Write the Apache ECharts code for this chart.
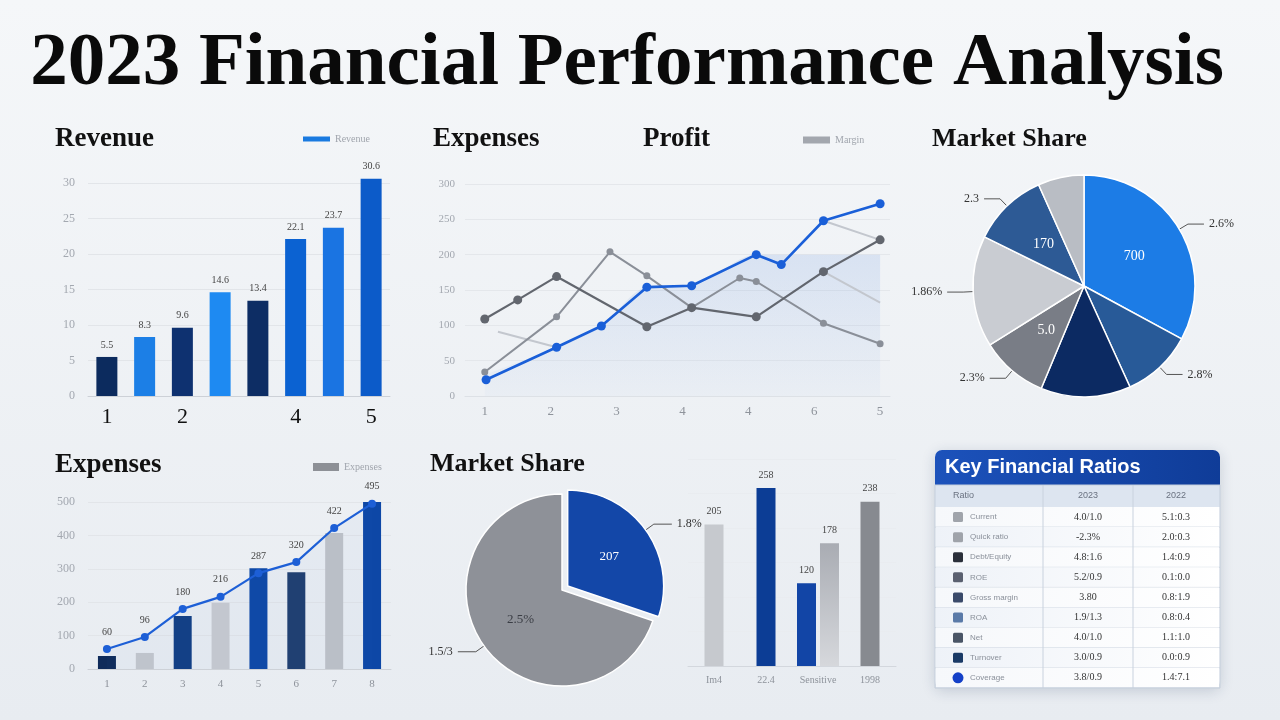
<!DOCTYPE html>
<html>
<head>
<meta charset="utf-8">
<script src="https://cdn.jsdelivr.net/npm/echarts@6/dist/echarts.min.js"></script>
<style>
html, body { margin: 0; padding: 0; background: #eef1f5; }
#main { width: 1280px; height: 720px; }
</style>
</head>
<body>
<div id="main"></div>
<script>
// ---- data ----
var revenueCats = ['1', '2', '3', '4', '5', '6', '7', '8'];
var revenueTicks = ['1', '', '2', '', '', '4', '', '5'];
var revenueValues = [5.5, 8.3, 9.6, 14.6, 13.4, 22.1, 23.7, 30.6];

var profitTicks = ['1', '2', '3', '4', '4', '6', '5'];
var profitBlue = [[1.02, 23], [2.09, 69], [2.77, 99], [3.46, 154], [4.14, 156], [5.12, 200], [5.5, 186], [6.14, 248], [7, 272]];
var profitDark = [[1, 109], [1.5, 136], [2.09, 169], [3.46, 98], [4.14, 125], [5.12, 112], [6.14, 176], [7, 221]];
var profitGray = [[1, 34], [2.09, 112], [2.9, 204], [3.46, 170], [4.14, 125], [4.87, 167], [5.12, 162], [6.14, 103], [7, 74]];
var profitLight = [[1.2, 91], [2.09, 69], '-', [6.14, 248], [7, 221], '-', [6.14, 176], [7, 132]];
var profitArea = [[1, 30], [2.09, 69], [2.77, 99], [3.46, 154], [4.14, 156], [5.12, 200], [7, 200]];

var shareNames = ['Product A', 'Product B', 'Product C', 'Product D', 'Product E', 'Product F', 'Product G'];
var shareValues = [32.9, 10.3, 13.1, 9.8, 16.2, 11.0, 6.7];
var shareOuter = ['2.6%', '2.8%', '', '2.3%', '1.86%', '2.3', ''];
var shareInner = ['700', '', '', '5.0', '', '170', ''];

var expenseCats = ['1', '2', '3', '4', '5', '6', '7', '8'];
var expenseBars = [39, 48, 159, 198, 302, 290, 407, 500];
var expenseLine = [60, 96, 180, 216, 287, 320, 422, 495];

var splitNames = ['Online', 'Retail'];
var splitValues = [30.2, 69.8];
var splitOuter = ['1.8%', '1.5/3'];
var splitInner = ['207', '2.5%'];

var segmentCats = ['Im4', '22.4', 'Sensitive', '1998'];
var segmentSingle = [205, 258, '-', 238];
var segmentPairA = ['-', '-', 120, '-'];
var segmentPairB = ['-', '-', 178, '-'];

var ratioCols = ['Ratio', '2023', '2022'];
var ratioNames = ['Current', 'Quick ratio', 'Debt/Equity', 'ROE', 'Gross margin', 'ROA', 'Net', 'Turnover', 'Coverage'];
var ratio2023 = ['4.0/1.0', '-2.3%', '4.8:1.6', '5.2/0.9', '3.80', '1.9/1.3', '4.0/1.0', '3.0/0.9', '3.8/0.9'];
var ratio2022 = ['5.1:0.3', '2.0:0.3', '1.4:0.9', '0.1:0.0', '0.8:1.9', '0.8:0.4', '1.1:1.0', '0.0:0.9', '1.4:7.1'];

// ---- styles ----
var serif = '"Liberation Serif", "DejaVu Serif", serif';
var sans = '"Liberation Sans", "DejaVu Sans", sans-serif';
var revenueColors = ['#0c2b5e', '#1c7fe6', '#0e3170', '#1e8af2', '#0d2d64', '#0b62d2', '#1a74e2', '#0c5bc9'];
var expenseColors = ['#0f2b5a', '#c4c7cd', '#123f84', '#c9cbd0', '#0e48a6', '#203f6f', '#bfc2c8', '#0d47a6'];
var shareColors = ['#1c7ce6', '#285a98', '#0c2a62', '#797d86', '#c9ccd2', '#2d5a95', '#b9bdc4'];
var splitColors = ['#1347a8', '#8e9198'];
var segmentColors = ['#c6c9ce', '#0c3d95', '#000', '#878a90'];
var ratioIconColors = ['#a0a4ab', '#9fa3aa', '#2a2f3a', '#5a6070', '#3a4a6a', '#5a7aa8', '#4a5566', '#1a3a66', '#1440c8'];

var chart = echarts.init(document.getElementById('main'), null, {renderer: 'canvas'});

function axisGray(size) {
    return {fontSize: size, color: '#a3a8b0', fontFamily: serif};
}

// ---- graphic: titles + table ----
var graphics = [];
function addText(x, y, text, font, fill, align) {
    graphics.push({
        type: 'text', x: x, y: y, silent: true,
        style: {text: text, font: font, fill: fill, align: align || 'left', textAlign: align || 'left',
                verticalAlign: 'middle', textVerticalAlign: 'middle'}
    });
}
addText(627, 65, '2023 Financial Performance Analysis', 'bold 75px ' + serif, '#0a0a0a', 'center');
addText(55, 139, 'Revenue', 'bold 27px ' + serif, '#111');
addText(433, 139, 'Expenses', 'bold 27px ' + serif, '#111');
addText(643, 139, 'Profit', 'bold 27px ' + serif, '#111');
addText(932, 139, 'Market Share', 'bold 26px ' + serif, '#111');
addText(55, 465, 'Expenses', 'bold 27px ' + serif, '#111');
addText(430, 464, 'Market Share', 'bold 26px ' + serif, '#111');

var tx = 935, ty = 450, tw = 285, th = 238, rowH = 20.1, bodyTop = 507;
graphics.push({type: 'rect', silent: true, shape: {x: tx, y: ty, width: tw, height: th, r: 7},
    style: {fill: '#fbfcfe', shadowBlur: 14, shadowColor: 'rgba(30,50,90,0.18)', shadowOffsetY: 3}});
graphics.push({type: 'rect', silent: true, shape: {x: tx, y: ty, width: tw, height: 35, r: [7, 7, 0, 0]},
    style: {fill: new echarts.graphic.LinearGradient(0, 0, 1, 0, [{offset: 0, color: '#1c52bb'}, {offset: 1, color: '#0f3c98'}])}});
addText(945, 467, 'Key Financial Ratios', 'bold 20px ' + sans, '#ffffff');
graphics.push({type: 'rect', silent: true, shape: {x: tx, y: 485, width: tw, height: 22},
    style: {fill: '#dde5f0'}});
addText(953, 496, ratioCols[0], '9px ' + sans, '#6a7280');
addText(1088, 496, ratioCols[1], '9px ' + sans, '#6a7280', 'center');
addText(1176, 496, ratioCols[2], '9px ' + sans, '#6a7280', 'center');
ratioNames.forEach(function (name, i) {
    var y0 = bodyTop + i * rowH;
    graphics.push({type: 'rect', silent: true, shape: {x: tx + 1, y: y0, width: tw - 2, height: rowH},
        style: {fill: new echarts.graphic.LinearGradient(0, 0, 1, 0, [
            {offset: 0, color: i % 2 ? '#eef2f8' : '#f6f8fb'}, {offset: 1, color: '#ffffff'}])}});
    graphics.push({type: 'line', silent: true, shape: {x1: tx, y1: y0 + rowH, x2: tx + tw, y2: y0 + rowH},
        style: {stroke: '#d3dae4', lineWidth: 1}});
    var cy = y0 + rowH / 2;
    if (i === ratioNames.length - 1) {
        graphics.push({type: 'circle', silent: true, shape: {cx: 958, cy: cy, r: 5.5}, style: {fill: ratioIconColors[i]}});
    } else {
        graphics.push({type: 'rect', silent: true, shape: {x: 953, y: cy - 5, width: 10, height: 10, r: 1.5},
            style: {fill: ratioIconColors[i]}});
    }
    addText(970, cy, name, '8px ' + sans, '#8a909a');
    addText(1088, cy, ratio2023[i], '10px ' + serif, '#333', 'center');
    addText(1176, cy, ratio2022[i], '10px ' + serif, '#333', 'center');
});
[1043, 1133].forEach(function (x) {
    graphics.push({type: 'line', silent: true, shape: {x1: x, y1: 485, x2: x, y2: ty + th},
        style: {stroke: '#c9d2de', lineWidth: 1}});
});
graphics.push({type: 'rect', silent: true, shape: {x: tx, y: 485, width: tw, height: ty + th - 485},
    style: {fill: 'none', stroke: '#c5cfdc', lineWidth: 1}});

// ---- pies ----
function pieData(names, values, labels, colors, inner) {
    return values.map(function (v, i) {
        var item = {value: v, name: names[i], itemStyle: {color: inner ? 'rgba(0,0,0,0)' : colors[i]}};
        if (!labels[i]) {
            item.label = {show: false};
            item.labelLine = {show: false};
        }
        return item;
    });
}
var share1 = pieData(shareNames, shareValues, shareOuter, shareColors, false);
var share2 = pieData(shareNames, shareValues, shareInner, shareColors, true);
var split1 = pieData(splitNames, splitValues, splitOuter, splitColors, false);
var split2 = pieData(splitNames, splitValues, splitInner, splitColors, true);
split1[0].selected = true;
split2[0].selected = true;
split2[1].label = {color: '#3a3d44'};

var option = {
    animation: false,
    backgroundColor: new echarts.graphic.LinearGradient(0, 0, 0, 1, [
        {offset: 0, color: '#f5f7f9'}, {offset: 1, color: '#e8ecf1'}]),
    graphic: graphics,
    legend: [
        {left: 303, top: 134, padding: 0, icon: 'rect', itemWidth: 27, itemHeight: 5,
         data: [{name: 'Revenue', itemStyle: {color: '#1a7ae0'}}],
         textStyle: {fontSize: 10, color: '#a0a5ad', fontFamily: serif}},
        {left: 803, top: 135, padding: 0, icon: 'rect', itemWidth: 27, itemHeight: 7,
         data: [{name: 'Margin', itemStyle: {color: '#a3a7ae'}}],
         textStyle: {fontSize: 10, color: '#a0a5ad', fontFamily: serif}},
        {left: 313, top: 462, padding: 0, icon: 'rect', itemWidth: 26, itemHeight: 8,
         data: [{name: 'Expenses', itemStyle: {color: '#8d9096'}}],
         textStyle: {fontSize: 10, color: '#a0a5ad', fontFamily: serif}}
    ],
    grid: [
        {left: 88, right: 890, top: 183, bottom: 324},
        {left: 465, right: 390, top: 184, bottom: 324},
        {left: 88, right: 889, top: 502, bottom: 51},
        {left: 688, right: 384, top: 459, bottom: 54}
    ],
    xAxis: [
        {type: 'category', gridIndex: 0, data: revenueCats,
         axisLine: {lineStyle: {color: '#cdd1d7'}}, axisTick: {show: false},
         axisLabel: {interval: 0, margin: 10, fontSize: 22, color: '#111', fontFamily: serif,
                     formatter: function (v, i) { return revenueTicks[i]; }}},
        {type: 'value', gridIndex: 1, min: 0.7, max: 7.15,
         axisLine: {show: true, lineStyle: {color: '#dde1e6'}}, axisTick: {show: false}, splitLine: {show: false},
         axisLabel: {customValues: [1, 2, 3, 4, 5, 6, 7], margin: 9, fontSize: 13, color: '#8e939b', fontFamily: serif,
                     formatter: function (v) { return profitTicks[Math.round(v) - 1]; }}},
        {type: 'category', gridIndex: 2, data: expenseCats,
         axisLine: {lineStyle: {color: '#cdd1d7'}}, axisTick: {show: false},
         axisLabel: Object.assign({interval: 0, margin: 10}, axisGray(11), {color: '#8e939b'})},
        {type: 'category', gridIndex: 3, data: segmentCats,
         axisLine: {lineStyle: {color: '#d3d7dd'}}, axisTick: {show: false},
         axisLabel: Object.assign({interval: 0, margin: 9}, axisGray(10), {color: '#8e939b'})},
        {type: 'category', gridIndex: 3, data: segmentCats, position: 'top', show: false}
    ],
    yAxis: [
        {type: 'value', gridIndex: 0, min: 0, max: 30, interval: 5,
         axisLine: {show: false}, axisTick: {show: false},
         axisLabel: Object.assign({margin: 13}, axisGray(12)),
         splitLine: {lineStyle: {color: '#e2e5e9'}}},
        {type: 'value', gridIndex: 1, min: 0, max: 300, interval: 50,
         axisLine: {show: false}, axisTick: {show: false},
         axisLabel: Object.assign({margin: 10}, axisGray(11)),
         splitLine: {lineStyle: {color: '#e4e7eb'}}},
        {type: 'value', gridIndex: 2, min: 0, max: 500, interval: 100,
         axisLine: {show: false}, axisTick: {show: false},
         axisLabel: Object.assign({margin: 13}, axisGray(12)),
         splitLine: {lineStyle: {color: '#e2e5e9'}}},
        {type: 'value', gridIndex: 3, min: 0, max: 300, interval: 50,
         axisLine: {show: false}, axisTick: {show: false},
         axisLabel: {show: false},
         splitLine: {lineStyle: {color: '#e9ecf0'}}}
    ],
    series: [
        {type: 'bar', name: 'Revenue', xAxisIndex: 0, yAxisIndex: 0, data: revenueValues, barWidth: 21, clip: false,
         itemStyle: {color: function (p) { return revenueColors[p.dataIndex]; }},
         label: {show: true, position: 'top', distance: 7, fontSize: 10, color: '#444', fontFamily: serif}},

        {type: 'line', name: 'Trend', xAxisIndex: 1, yAxisIndex: 1, data: profitArea, smooth: 0.3,
         symbol: 'none', silent: true, z: 1, lineStyle: {width: 0},
         areaStyle: {color: new echarts.graphic.LinearGradient(0, 0, 0, 1, [
             {offset: 0, color: 'rgba(70,125,215,0.20)'}, {offset: 1, color: 'rgba(70,125,215,0.04)'}])}},
        {type: 'line', name: 'Other', xAxisIndex: 1, yAxisIndex: 1, data: profitLight, symbol: 'none',
         lineStyle: {color: '#c3c7ce', width: 2}},
        {type: 'line', name: 'Costs', xAxisIndex: 1, yAxisIndex: 1, data: profitGray,
         symbol: 'circle', symbolSize: 7, itemStyle: {color: '#8a8f98'}, lineStyle: {color: '#8a8f98', width: 2}},
        {type: 'line', name: 'Margin', xAxisIndex: 1, yAxisIndex: 1, data: profitDark,
         symbol: 'circle', symbolSize: 9, itemStyle: {color: '#62666e'}, lineStyle: {color: '#62666e', width: 2.2}},
        {type: 'line', name: 'Profit', xAxisIndex: 1, yAxisIndex: 1, data: profitBlue,
         symbol: 'circle', symbolSize: 9, itemStyle: {color: '#1a5fd8'}, lineStyle: {color: '#1a5fd8', width: 2.6}},

        {type: 'bar', name: 'Expenses', xAxisIndex: 2, yAxisIndex: 2, data: expenseBars, barWidth: 18,
         itemStyle: {color: function (p) { return expenseColors[p.dataIndex]; }}},
        {type: 'line', name: 'Expenses trend', xAxisIndex: 2, yAxisIndex: 2, data: expenseLine,
         symbol: 'circle', symbolSize: 8, itemStyle: {color: '#1d5fd6'}, lineStyle: {color: '#1d5fd6', width: 2.2},
         areaStyle: {color: 'rgba(60,110,200,0.05)'},
         label: {show: true, position: 'top', distance: 8, fontSize: 10, color: '#444', fontFamily: serif}},

        {type: 'pie', name: 'Share', center: [1084, 286], radius: 111, startAngle: 90, data: share1,
         itemStyle: {borderColor: '#ffffff', borderWidth: 1.5},
         label: {show: true, position: 'outside', fontSize: 12, color: '#333', fontFamily: serif,
                 formatter: function (p) { return shareOuter[p.dataIndex]; }},
         labelLine: {length: 10, length2: 16, lineStyle: {color: '#555', width: 1}}},
        {type: 'pie', name: 'ShareIn', center: [1084, 286], radius: 111, startAngle: 90, data: share2, silent: true,
         label: {show: true, position: 'inside', fontSize: 14, color: '#ffffff', fontFamily: serif,
                 formatter: function (p) { return shareInner[p.dataIndex]; }},
         labelLine: {show: false}},

        {type: 'pie', name: 'Split', center: [562, 590], radius: 96, startAngle: 90, data: split1,
         selectedMode: 'single', selectedOffset: 7,
         itemStyle: {borderColor: '#ffffff', borderWidth: 1.5},
         label: {show: true, position: 'outside', fontSize: 12, color: '#333', fontFamily: serif,
                 formatter: function (p) { return splitOuter[p.dataIndex]; }},
         labelLine: {length: 10, length2: 18, lineStyle: {color: '#555', width: 1}}},
        {type: 'pie', name: 'SplitIn', center: [562, 590], radius: 96, startAngle: 90, data: split2, silent: true,
         selectedMode: 'single', selectedOffset: 7,
         label: {show: true, position: 'inside', fontSize: 13, color: '#ffffff', fontFamily: serif,
                 formatter: function (p) { return splitInner[p.dataIndex]; }},
         labelLine: {show: false}},

        {type: 'bar', name: 'Segment', xAxisIndex: 3, yAxisIndex: 3, data: segmentSingle, barWidth: 19,
         itemStyle: {color: function (p) { return segmentColors[p.dataIndex]; }},
         label: {show: true, position: 'top', distance: 8, fontSize: 10, color: '#444', fontFamily: serif}},
        {type: 'bar', name: 'Segment A', xAxisIndex: 4, yAxisIndex: 3, data: segmentPairA, barWidth: 19, barGap: '21%',
         itemStyle: {color: '#1245a6'},
         label: {show: true, position: 'top', distance: 8, fontSize: 10, color: '#444', fontFamily: serif}},
        {type: 'bar', name: 'Segment B', xAxisIndex: 4, yAxisIndex: 3, data: segmentPairB, barWidth: 19, barGap: '21%',
         itemStyle: {color: new echarts.graphic.LinearGradient(0, 0, 0, 1, [
             {offset: 0, color: '#a9acb3'}, {offset: 1, color: '#d6d8dc'}])},
         label: {show: true, position: 'top', distance: 8, fontSize: 10, color: '#444', fontFamily: serif}}
    ]
};
chart.setOption(option);
</script>
</body>
</html>
